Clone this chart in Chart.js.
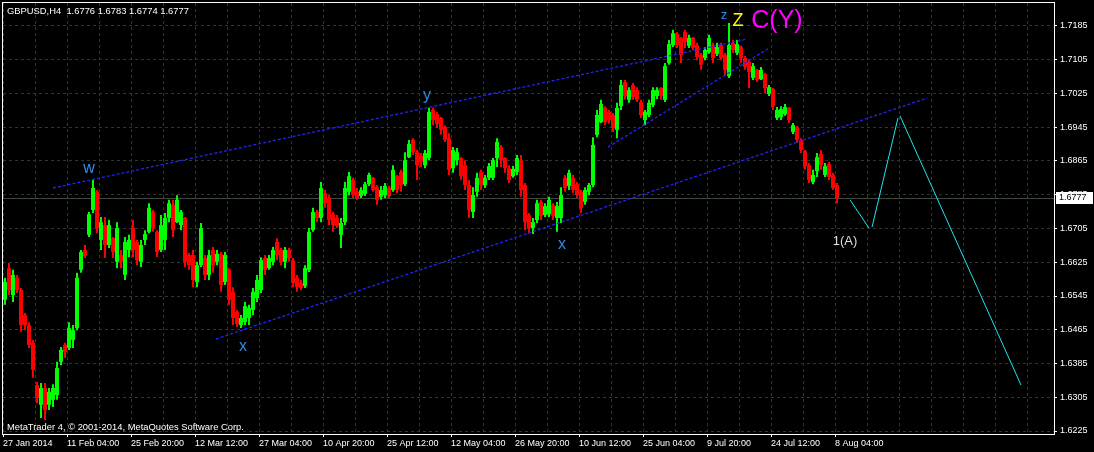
<!DOCTYPE html>
<html>
<head>
<meta charset="utf-8">
<title>GBPUSD H4</title>
<script src="https://cdn.jsdelivr.net/npm/chart.js@4.4.1/dist/chart.umd.min.js"></script>
<style>
  html, body { margin: 0; padding: 0; background: #000; }
  #wrap { width: 1094px; height: 452px; }
</style>
</head>
<body>
<div id="wrap"><canvas id="chart" width="1094" height="452"></canvas></div>
<script>
// GBPUSD H4 chart - candles grouped 4 bars each
const symbol = 'GBPUSD,H4';
const lastBar = [1.6776, 1.6783, 1.6774, 1.6777]; // O H L C of newest bar
const barsPerCandle = 4;
const totalBars = 1051;

const opens = [
  1.6536, 1.6611, 1.6547, 1.6588, 1.6559, 1.6500, 1.6476, 1.6434, 1.6334, 1.6287,
  1.6327, 1.6287, 1.6299, 1.6310, 1.6389, 1.6429, 1.6422, 1.6441, 1.6469, 1.6607,
  1.6654, 1.6690, 1.6749, 1.6792, 1.6678, 1.6713, 1.6666, 1.6682, 1.6626, 1.6642,
  1.6595, 1.6654, 1.6706, 1.6673, 1.6626, 1.6678, 1.6697, 1.6744, 1.6697, 1.6654,
  1.6678, 1.6730, 1.6761, 1.6720, 1.6713, 1.6730, 1.6642, 1.6642, 1.6578, 1.6618,
  1.6635, 1.6595, 1.6654, 1.6626, 1.6645, 1.6578, 1.6607, 1.6555, 1.6507, 1.6476,
  1.6483, 1.6493, 1.6512, 1.6540, 1.6559, 1.6635, 1.6611, 1.6626, 1.6673, 1.6654,
  1.6626, 1.6654, 1.6630, 1.6588, 1.6576, 1.6569, 1.6607, 1.6701, 1.6744, 1.6730,
  1.6789, 1.6777, 1.6739, 1.6730, 1.6690, 1.6720, 1.6792, 1.6820, 1.6792, 1.6782,
  1.6787, 1.6810, 1.6825, 1.6803, 1.6780, 1.6784, 1.6801, 1.6796, 1.6829, 1.6839,
  1.6810, 1.6874, 1.6915, 1.6886, 1.6877, 1.6855, 1.6872, 1.6986, 1.6976, 1.6967,
  1.6946, 1.6919, 1.6848, 1.6867, 1.6872, 1.6855, 1.6808, 1.6744, 1.6792, 1.6839,
  1.6808, 1.6825, 1.6825, 1.6872, 1.6898, 1.6872, 1.6848, 1.6829, 1.6839, 1.6867,
  1.6808, 1.6737, 1.6706, 1.6725, 1.6768, 1.6737, 1.6739, 1.6761, 1.6730, 1.6730,
  1.6825, 1.6806, 1.6825, 1.6810, 1.6792, 1.6768, 1.6792, 1.6808, 1.6927, 1.6957,
  1.6991, 1.6981, 1.6974, 1.6939, 1.6995, 1.7052, 1.7010, 1.7045, 1.7033, 1.7005,
  1.6962, 1.6974, 1.6998, 1.7019, 1.7038, 1.7010, 1.7097, 1.7140, 1.7166, 1.7157,
  1.7171, 1.7138, 1.7157, 1.7140, 1.7116, 1.7109, 1.7123, 1.7140, 1.7119, 1.7140,
  1.7116, 1.7066, 1.7145, 1.7121, 1.7135, 1.7109, 1.7100, 1.7062, 1.7081, 1.7059,
  1.7071, 1.7024, 1.7036, 1.6967, 1.6969, 1.6976, 1.6991, 1.6934, 1.6946, 1.6915,
  1.6889, 1.6855, 1.6815, 1.6841, 1.6882, 1.6832, 1.6858, 1.6832, 1.6808
];
const highs = [
  1.6588, 1.6623, 1.6607, 1.6595, 1.6564, 1.6505, 1.6483, 1.6441, 1.6341, 1.6339,
  1.6339, 1.6327, 1.6336, 1.6389, 1.6424, 1.6434, 1.6483, 1.6476, 1.6600, 1.6654,
  1.6666, 1.6744, 1.6820, 1.6796, 1.6732, 1.6732, 1.6725, 1.6685, 1.6720, 1.6654,
  1.6685, 1.6690, 1.6725, 1.6678, 1.6678, 1.6701, 1.6765, 1.6749, 1.6701, 1.6737,
  1.6742, 1.6773, 1.6773, 1.6784, 1.6749, 1.6732, 1.6647, 1.6654, 1.6626, 1.6718,
  1.6642, 1.6654, 1.6661, 1.6654, 1.6649, 1.6649, 1.6611, 1.6566, 1.6512, 1.6500,
  1.6531, 1.6524, 1.6564, 1.6595, 1.6637, 1.6642, 1.6642, 1.6661, 1.6682, 1.6659,
  1.6661, 1.6659, 1.6635, 1.6595, 1.6583, 1.6618, 1.6706, 1.6754, 1.6749, 1.6815,
  1.6796, 1.6784, 1.6744, 1.6737, 1.6730, 1.6815, 1.6839, 1.6825, 1.6801, 1.6803,
  1.6815, 1.6837, 1.6827, 1.6808, 1.6806, 1.6813, 1.6806, 1.6855, 1.6832, 1.6844,
  1.6886, 1.6915, 1.6919, 1.6891, 1.6884, 1.6891, 1.6991, 1.6991, 1.6981, 1.6969,
  1.6950, 1.6931, 1.6898, 1.6896, 1.6874, 1.6867, 1.6820, 1.6803, 1.6837, 1.6844,
  1.6832, 1.6860, 1.6872, 1.6919, 1.6903, 1.6874, 1.6855, 1.6853, 1.6879, 1.6879,
  1.6813, 1.6742, 1.6730, 1.6773, 1.6773, 1.6765, 1.6780, 1.6765, 1.6768, 1.6803,
  1.6832, 1.6844, 1.6832, 1.6815, 1.6796, 1.6803, 1.6813, 1.6921, 1.6986, 1.7010,
  1.6995, 1.6986, 1.6979, 1.7003, 1.7057, 1.7057, 1.7040, 1.7050, 1.7040, 1.7010,
  1.6986, 1.7010, 1.7040, 1.7040, 1.7040, 1.7097, 1.7152, 1.7176, 1.7171, 1.7159,
  1.7176, 1.7164, 1.7159, 1.7145, 1.7121, 1.7135, 1.7164, 1.7145, 1.7145, 1.7145,
  1.7121, 1.7192, 1.7152, 1.7152, 1.7138, 1.7114, 1.7104, 1.7097, 1.7083, 1.7088,
  1.7074, 1.7045, 1.7038, 1.6993, 1.6995, 1.7000, 1.6993, 1.6955, 1.6948, 1.6919,
  1.6891, 1.6860, 1.6844, 1.6884, 1.6891, 1.6860, 1.6863, 1.6837, 1.6813
];
const lows = [
  1.6524, 1.6547, 1.6531, 1.6552, 1.6460, 1.6464, 1.6422, 1.6351, 1.6291, 1.6256,
  1.6251, 1.6275, 1.6282, 1.6299, 1.6381, 1.6398, 1.6417, 1.6422, 1.6464, 1.6600,
  1.6635, 1.6685, 1.6742, 1.6694, 1.6654, 1.6635, 1.6659, 1.6635, 1.6611, 1.6611,
  1.6583, 1.6637, 1.6637, 1.6618, 1.6614, 1.6666, 1.6694, 1.6697, 1.6637, 1.6649,
  1.6654, 1.6720, 1.6685, 1.6718, 1.6701, 1.6614, 1.6607, 1.6566, 1.6566, 1.6614,
  1.6583, 1.6583, 1.6600, 1.6618, 1.6555, 1.6571, 1.6524, 1.6476, 1.6472, 1.6469,
  1.6476, 1.6476, 1.6500, 1.6531, 1.6552, 1.6595, 1.6607, 1.6618, 1.6630, 1.6618,
  1.6611, 1.6626, 1.6566, 1.6555, 1.6559, 1.6564, 1.6602, 1.6697, 1.6720, 1.6720,
  1.6754, 1.6713, 1.6697, 1.6706, 1.6659, 1.6713, 1.6784, 1.6777, 1.6773, 1.6777,
  1.6782, 1.6806, 1.6792, 1.6761, 1.6773, 1.6777, 1.6777, 1.6792, 1.6789, 1.6792,
  1.6806, 1.6872, 1.6879, 1.6820, 1.6851, 1.6848, 1.6867, 1.6950, 1.6943, 1.6927,
  1.6910, 1.6832, 1.6837, 1.6855, 1.6820, 1.6796, 1.6730, 1.6730, 1.6780, 1.6796,
  1.6801, 1.6820, 1.6820, 1.6851, 1.6851, 1.6837, 1.6813, 1.6825, 1.6832, 1.6780,
  1.6701, 1.6694, 1.6692, 1.6718, 1.6725, 1.6732, 1.6732, 1.6725, 1.6697, 1.6718,
  1.6792, 1.6796, 1.6789, 1.6777, 1.6742, 1.6761, 1.6784, 1.6803, 1.6921, 1.6955,
  1.6950, 1.6953, 1.6934, 1.6919, 1.6986, 1.7010, 1.7003, 1.7010, 1.7005, 1.6967,
  1.6950, 1.6969, 1.6993, 1.7012, 1.7010, 1.7005, 1.7093, 1.7135, 1.7133, 1.7097,
  1.7133, 1.7133, 1.7128, 1.7104, 1.7081, 1.7104, 1.7119, 1.7097, 1.7114, 1.7104,
  1.7069, 1.7062, 1.7121, 1.7116, 1.7097, 1.7081, 1.7038, 1.7057, 1.7052, 1.7057,
  1.7026, 1.7019, 1.6986, 1.6962, 1.6962, 1.6972, 1.6955, 1.6929, 1.6908, 1.6884,
  1.6844, 1.6813, 1.6810, 1.6827, 1.6844, 1.6827, 1.6820, 1.6796, 1.6765
];
const closes = [
  1.6578, 1.6559, 1.6595, 1.6559, 1.6476, 1.6476, 1.6429, 1.6370, 1.6303, 1.6327,
  1.6275, 1.6318, 1.6327, 1.6374, 1.6417, 1.6412, 1.6469, 1.6464, 1.6588, 1.6649,
  1.6640, 1.6739, 1.6801, 1.6706, 1.6720, 1.6666, 1.6713, 1.6649, 1.6706, 1.6626,
  1.6673, 1.6678, 1.6654, 1.6630, 1.6666, 1.6692, 1.6754, 1.6706, 1.6649, 1.6713,
  1.6730, 1.6765, 1.6701, 1.6773, 1.6744, 1.6626, 1.6618, 1.6583, 1.6618, 1.6706,
  1.6595, 1.6642, 1.6618, 1.6645, 1.6571, 1.6642, 1.6536, 1.6493, 1.6479, 1.6493,
  1.6521, 1.6517, 1.6555, 1.6583, 1.6630, 1.6607, 1.6635, 1.6654, 1.6642, 1.6626,
  1.6654, 1.6635, 1.6576, 1.6566, 1.6564, 1.6611, 1.6697, 1.6744, 1.6730, 1.6801,
  1.6765, 1.6725, 1.6713, 1.6711, 1.6718, 1.6801, 1.6829, 1.6784, 1.6777, 1.6796,
  1.6810, 1.6832, 1.6796, 1.6773, 1.6796, 1.6806, 1.6782, 1.6844, 1.6796, 1.6808,
  1.6867, 1.6905, 1.6886, 1.6855, 1.6863, 1.6884, 1.6981, 1.6962, 1.6953, 1.6939,
  1.6915, 1.6844, 1.6891, 1.6886, 1.6829, 1.6808, 1.6749, 1.6784, 1.6825, 1.6808,
  1.6825, 1.6853, 1.6867, 1.6910, 1.6867, 1.6848, 1.6820, 1.6846, 1.6872, 1.6796,
  1.6720, 1.6706, 1.6720, 1.6765, 1.6735, 1.6758, 1.6773, 1.6735, 1.6758, 1.6784,
  1.6801, 1.6837, 1.6796, 1.6784, 1.6754, 1.6796, 1.6808, 1.6903, 1.6974, 1.7000,
  1.6957, 1.6962, 1.6943, 1.6991, 1.7045, 1.7019, 1.7033, 1.7017, 1.7010, 1.6974,
  1.6981, 1.7003, 1.7033, 1.7033, 1.7019, 1.7090, 1.7142, 1.7168, 1.7140, 1.7116,
  1.7147, 1.7157, 1.7133, 1.7111, 1.7093, 1.7128, 1.7157, 1.7109, 1.7135, 1.7109,
  1.7081, 1.7140, 1.7128, 1.7142, 1.7109, 1.7088, 1.7076, 1.7090, 1.7057, 1.7081,
  1.7038, 1.7040, 1.6995, 1.6986, 1.6988, 1.6993, 1.6962, 1.6950, 1.6915, 1.6891,
  1.6853, 1.6820, 1.6832, 1.6874, 1.6855, 1.6853, 1.6827, 1.6801, 1.6777
];

// one label every 64 bars, grid every 32 bars
const dateLabels = ['27 Jan 2014', '11 Feb 04:00', '25 Feb 20:00', '12 Mar 12:00', '27 Mar 04:00',
  '10 Apr 20:00', '25 Apr 12:00', '12 May 04:00', '26 May 20:00', '10 Jun 12:00',
  '25 Jun 04:00', '9 Jul 20:00', '24 Jul 12:00', '8 Aug 04:00'];
const gridStep = 32;
const priceTicks = [1.6225, 1.6305, 1.6385, 1.6465, 1.6545, 1.6625, 1.6705,
  1.6785, 1.6865, 1.6945, 1.7025, 1.7105, 1.7185];
const priceMin = 1.62179;
const priceMax = 1.72395;

// drawn objects: [bar, price]
const upperChannel = [[50, 1.6801], [744, 1.7154]];
const lowerChannel = [[213, 1.6443], [924, 1.7014]];
const innerLine = [[605, 1.6898], [765, 1.7131]];
const projection = [
  [[847, 1.6773], [866, 1.6706]],
  [[869, 1.6708], [895, 1.6967]],
  [[897, 1.6972], [1018, 1.6334]]
];

const waveLabels = [
  { text: 'w', bar: 86, price: 1.6848, color: '#2f8ce6', size: 16 },
  { text: 'x', bar: 240, price: 1.6424, color: '#2f8ce6', size: 16 },
  { text: 'y', bar: 424, price: 1.7019, color: '#2f8ce6', size: 16 },
  { text: 'x', bar: 559, price: 1.6666, color: '#2f8ce6', size: 16 },
  { text: 'z', bar: 721, price: 1.7211, color: '#2f8ce6', size: 13 },
  { text: 'Z', bar: 735, price: 1.7196, color: '#ffff00', size: 18 },
  { text: 'C(Y)', bar: 774, price: 1.7197, color: '#ff00ff', size: 25 },
  { text: '1(A)', bar: 842, price: 1.6675, color: '#dcdcdc', size: 13 }
];

const fontFamily = '"Liberation Sans", Arial, sans-serif';
const gridColor = '#2d372d';

const candleX = opens.map((o, i) => i * barsPerCandle + 2);
const candleColors = opens.map((o, i) => closes[i] >= o ? '#00ff00' : '#ff0000');

function lineDataset(points, color, dash, width) {
  return {
    type: 'line',
    data: points.map(p => ({ x: p[0], y: p[1] })),
    borderColor: color,
    borderWidth: width,
    borderDash: dash,
    pointRadius: 0,
    fill: false,
    tension: 0,
    order: 1
  };
}

const mt4Overlay = {
  id: 'mt4Overlay',
  beforeDraw(chart) {
    const ctx = chart.ctx;
    ctx.save();
    ctx.fillStyle = '#000000';
    ctx.fillRect(0, 0, chart.width, chart.height);
    ctx.restore();
  },
  beforeDatasetsDraw(chart) {
    const { ctx, chartArea: area, scales: { y } } = chart;
    const py = Math.round(y.getPixelForValue(lastBar[3])) + 0.5;
    ctx.save();
    ctx.strokeStyle = '#3d473d';
    ctx.lineWidth = 1;
    ctx.beginPath();
    ctx.moveTo(area.left, py);
    ctx.lineTo(area.right, py);
    ctx.stroke();
    ctx.restore();
  },
  afterDraw(chart) {
    const { ctx, chartArea: area, scales: { x, y } } = chart;
    ctx.save();
    // white frame
    ctx.strokeStyle = '#ffffff';
    ctx.lineWidth = 1;
    ctx.strokeRect(area.left - 0.5, area.top - 0.5, area.right - area.left + 1, area.bottom - area.top + 1);

    // header and copyright line
    ctx.fillStyle = '#ffffff';
    ctx.font = '9.4px ' + fontFamily;
    ctx.textBaseline = 'middle';
    ctx.textAlign = 'left';
    ctx.fillText(symbol + '  ' + lastBar.map(v => v.toFixed(4)).join(' '), 7, 11);
    ctx.fillText('MetaTrader 4, © 2001-2014, MetaQuotes Software Corp.', 7, 427);

    // wave labels
    ctx.textAlign = 'center';
    waveLabels.forEach(l => {
      ctx.fillStyle = l.color;
      ctx.font = l.size + 'px ' + fontFamily;
      ctx.fillText(l.text, x.getPixelForValue(l.bar), y.getPixelForValue(l.price));
    });

    // current price tag on the axis
    const py = Math.round(y.getPixelForValue(lastBar[3]));
    ctx.fillStyle = '#ffffff';
    ctx.fillRect(area.right + 2, py - 6, 37, 12);
    ctx.fillStyle = '#000000';
    ctx.textAlign = 'left';
    ctx.font = '9px ' + fontFamily;
    ctx.fillText(lastBar[3].toFixed(4), area.right + 5, py);
    ctx.restore();
  }
};

const ctx = document.getElementById('chart').getContext('2d');
new Chart(ctx, {
  type: 'bar',
  data: {
    datasets: [
      {
        label: 'wicks',
        data: candleX.map((cx, i) => ({ x: cx, y: [lows[i], highs[i]] })),
        backgroundColor: candleColors,
        barThickness: 2,
        maxBarThickness: 2,
        grouped: false,
        inflateAmount: 0,
        borderWidth: 0,
        order: 2
      },
      {
        label: 'bodies',
        data: candleX.map((cx, i) => ({ x: cx, y: [opens[i], closes[i]] })),
        backgroundColor: candleColors,
        barThickness: 4,
        maxBarThickness: 4,
        grouped: false,
        inflateAmount: 0,
        borderWidth: 0,
        order: 2
      },
      lineDataset(upperChannel, '#2222ff', [3, 2], 1.3),
      lineDataset(lowerChannel, '#2222ff', [3, 2], 1.3),
      lineDataset(innerLine, '#2222ff', [3, 2], 1.3),
      ...projection.map(seg => lineDataset(seg, '#1ee6f0', [], 1))
    ]
  },
  options: {
    responsive: false,
    animation: false,
    devicePixelRatio: 1,
    layout: { padding: { left: 3, top: 3, right: 0, bottom: 0 } },
    plugins: { legend: { display: false }, tooltip: { enabled: false } },
    scales: {
      x: {
        type: 'linear',
        min: 0,
        max: totalBars,
        offset: false,
        afterBuildTicks: s => {
          const ticks = [];
          for (let v = 0; v < totalBars; v += gridStep) ticks.push({ value: v });
          s.ticks = ticks;
        },
        afterFit: s => {
          s.height = 18;
          s.paddingLeft = 0;
          s.paddingRight = 0;
        },
        grid: {
          color: gridColor,
          offset: false,
          tickLength: 3,
          tickWidth: 1,
          tickBorderDash: [],
          tickColor: c => (c.index % 2 === 0 && dateLabels[c.index / 2]) ? '#ffffff' : 'rgba(0,0,0,0)'
        },
        border: { display: false, dash: [3, 3] },
        ticks: {
          autoSkip: false,
          maxRotation: 0,
          align: 'start',
          padding: 1,
          color: '#ffffff',
          font: { family: fontFamily, size: 9 },
          callback: (v, i) => (i % 2 === 0 && dateLabels[i / 2]) ? dateLabels[i / 2] : ''
        }
      },
      y: {
        position: 'right',
        min: priceMin,
        max: priceMax,
        afterBuildTicks: s => { s.ticks = priceTicks.map(v => ({ value: v })); },
        afterFit: s => {
          s.width = 40;
          s.paddingTop = 0;
          s.paddingBottom = 0;
        },
        grid: { color: gridColor, tickLength: 3, tickColor: '#ffffff', tickBorderDash: [] },
        border: { display: false, dash: [3, 3] },
        ticks: {
          color: '#ffffff',
          padding: 3,
          font: { family: fontFamily, size: 9 },
          callback: v => v.toFixed(4)
        }
      }
    }
  },
  plugins: [mt4Overlay]
});
</script>
</body>
</html>
